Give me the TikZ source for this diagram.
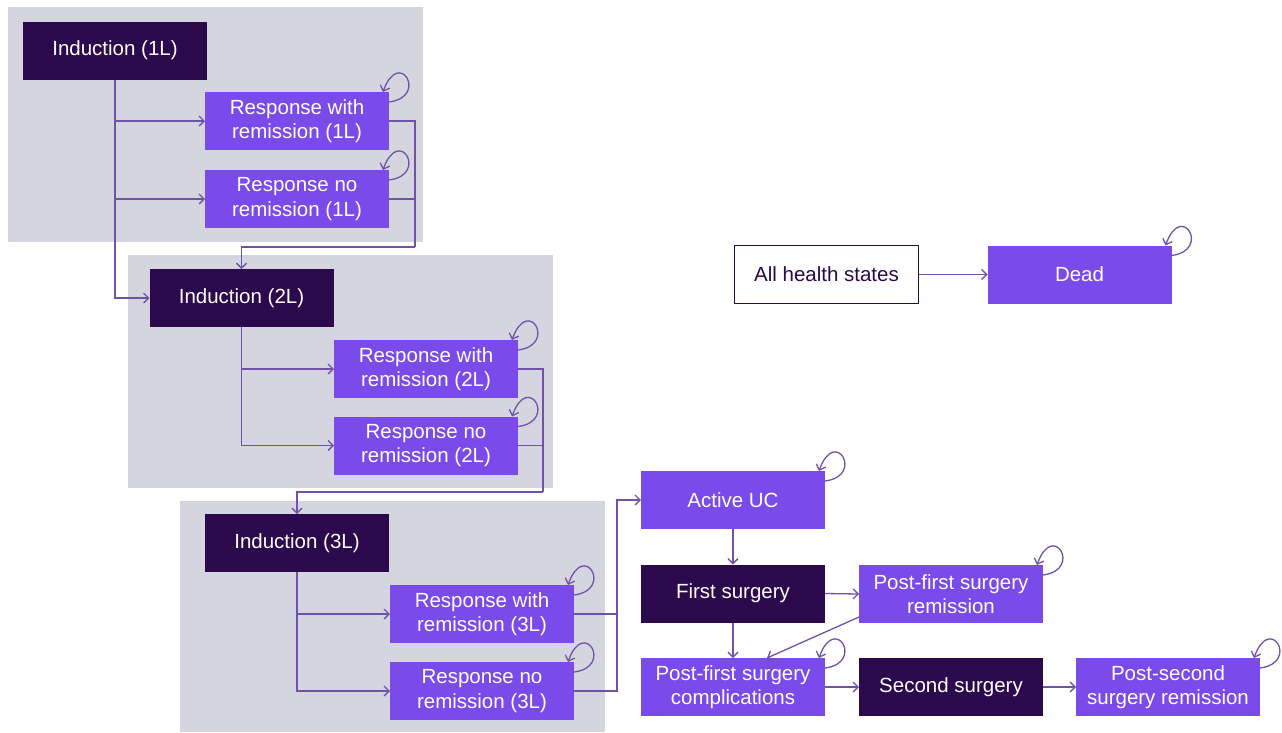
\documentclass[tikz,border=0pt]{standalone}
\usepackage{fontspec}
\setmainfont{Liberation Sans}
\usetikzlibrary{arrows.meta,calc}
\definecolor{panelgrey}{RGB}{213,213,223}
\definecolor{darkpurple}{RGB}{44,8,76}
\definecolor{brightpurple}{RGB}{122,74,234}
\definecolor{linepurple}{RGB}{112,82,168}
\newcommand\selfloop[1]{\draw[conn] ($(#1.north east)+(0,10)$) .. controls ($(#1.north east)+(40,5)$) and ($(#1.north east)+(10,-45)$) .. ($(#1.north east)+(-6,0)$);}
\begin{document}
\begin{tikzpicture}[x=1pt,y=-1pt,
  box/.style={minimum width=184pt,minimum height=58pt,inner sep=2pt,outer sep=0pt,align=center,font=\fontsize{20.5}{24.5}\selectfont,text=white},
  indbox/.style={box,fill=darkpurple},
  statebox/.style={box,fill=brightpurple},
  plainbox/.style={box,draw=darkpurple,line width=1pt,fill=white,text=darkpurple},
  wire/.style={draw=linepurple,line width=1.3pt},
  conn/.style={wire,-{Straight Barb[length=5pt,width=10pt]}}]
\useasboundingbox (0,0) rectangle (1282,732);
% panels
\fill[panelgrey] (8,7) rectangle (423,242);
\fill[panelgrey] (128,255) rectangle (553,488);
\fill[panelgrey] (180,501) rectangle (605,732);
% nodes
\node[indbox] (ind1) at (115,50.5) {Induction (1L)};
\node[statebox] (rwr1) at (297,121) {Response with\\remission (1L)};
\node[statebox] (rnr1) at (297,199) {Response no\\remission (1L)};
\node[indbox] (ind2) at (241.5,298) {Induction (2L)};
\node[statebox] (rwr2) at (426,369) {Response with\\remission (2L)};
\node[statebox] (rnr2) at (426,445.5) {Response no\\remission (2L)};
\node[indbox] (ind3) at (297,543) {Induction (3L)};
\node[statebox] (rwr3) at (482,614) {Response with\\remission (3L)};
\node[statebox] (rnr3) at (482,691) {Response no\\remission (3L)};
\node[statebox] (auc) at (733,500) {Active UC};
\node[indbox] (fs) at (733,593.5) {First surgery};
\node[statebox] (pfsr) at (951,594) {Post-first surgery\\remission};
\node[statebox] (pfsc) at (733,687) {Post-first surgery\\complications};
\node[indbox] (ss) at (951,687) {Second surgery};
\node[statebox] (pss) at (1168,687) {Post-second\\surgery remission};
\node[plainbox] (ahs) at (826.5,274.5) {All health states};
\node[statebox] (dead) at (1079.5,274.5) {Dead};
% panel 1 connectors
\draw[conn] (ind1.south) |- (ind2.west);
\draw[conn] (ind1.south |- rwr1.west) -- (rwr1.west);
\draw[conn] (ind1.south |- rnr1.west) -- (rnr1.west);
\coordinate (bus1) at (415,247);
\draw[wire] (rwr1.east) -| (bus1);
\draw[wire] (rnr1.east) -| (bus1);
\draw[conn] (bus1) -| (ind2.north);
% panel 2 connectors
\draw[conn] (ind2.south) |- (rnr2.west);
\draw[conn] (ind2.south |- rwr2.west) -- (rwr2.west);
\coordinate (bus2) at (543,492);
\draw[wire] (rwr2.east) -| (bus2);
\draw[wire] (rnr2.east) -| (bus2);
\draw[conn] (bus2) -| (ind3.north);
% panel 3 connectors
\draw[conn] (ind3.south) |- (rnr3.west);
\draw[conn] (ind3.south |- rwr3.west) -- (rwr3.west);
\coordinate (bus3) at (617,614);
\draw[wire] (rwr3.east) -- (bus3);
\draw[conn] (rnr3.east) -| (bus3 |- auc.west) -- (auc.west);
% right part
\draw[conn] (auc.south) -- (fs.north);
\draw[conn] (fs.east) -- (pfsr.west);
\draw[conn] (fs.south) -- (pfsc.north);
\draw[conn] ($(pfsr.south west)+(0,-6)$) -- ($(pfsc.north)+(34,0)$);
\draw[conn] (pfsc.east) -- (ss.west);
\draw[conn] (ss.east) -- (pss.west);
\draw[conn] (ahs.east) -- (dead.west);
% self loops
\selfloop{rwr1}
\selfloop{rnr1}
\selfloop{rwr2}
\selfloop{rnr2}
\selfloop{rwr3}
\selfloop{rnr3}
\selfloop{auc}
\selfloop{pfsr}
\selfloop{pfsc}
\selfloop{pss}
\selfloop{dead}
\end{tikzpicture}
\end{document}
